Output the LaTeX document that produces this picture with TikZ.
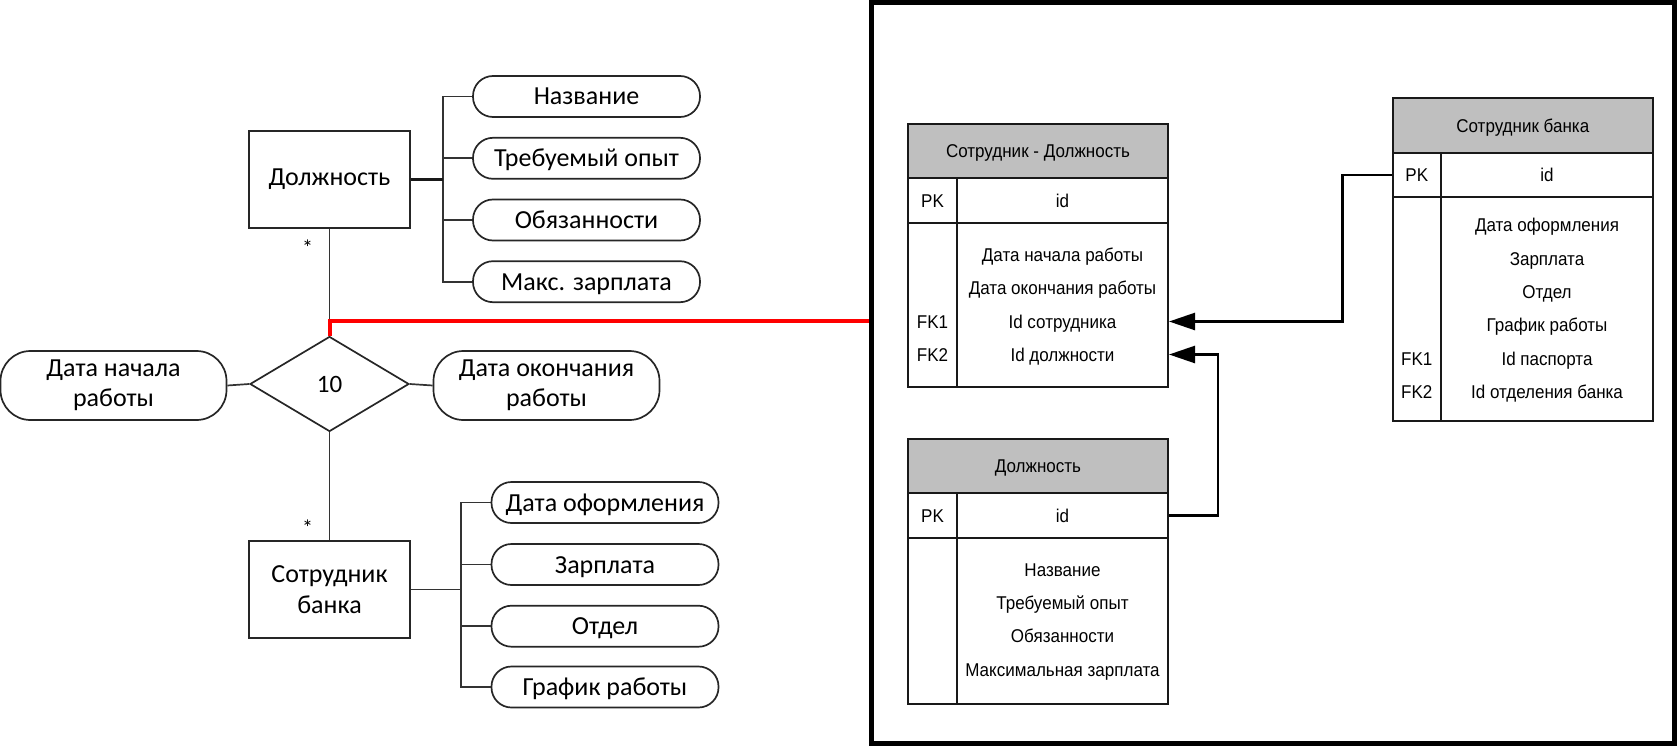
\documentclass[tikz,border=0pt]{standalone}
\usepackage{fontspec}
\setmainfont{Carlito}
\newfontfamily\tabfont{Liberation Sans}[FakeStretch=0.92]
\usetikzlibrary{shapes.geometric,arrows.meta}
\begin{document}
\begin{tikzpicture}[x=1pt,y=-1pt,
  conn/.style={draw=black!80,line width=1.7pt},
  thickconn/.style={draw=black!90,line width=3pt},
  ent/.style={draw=black!85,line width=1.7pt,minimum width=161pt,minimum height=97pt,inner sep=0pt,align=center,font=\fontsize{26}{31}\selectfont},
  attr/.style={draw=black!85,line width=1.7pt,rounded corners=20pt,minimum width=227pt,minimum height=41pt,inner sep=0pt,text height=17pt,text depth=0pt,font=\fontsize{26}{30}\selectfont},
  bigattr/.style={draw=black!85,line width=1.7pt,rounded corners=30pt,minimum width=226pt,minimum height=69pt,inner sep=0pt,align=center,font=\fontsize{26}{30}\selectfont},
  rel/.style={diamond,draw=black!85,line width=1.7pt,minimum width=159pt,minimum height=95pt,inner sep=0pt,font=\fontsize{25}{30}\selectfont},
  star/.style={inner sep=0pt,font=\fontsize{22}{24}\selectfont},
  tabtext/.style={text height=13.3pt,text depth=0pt,font=\tabfont\fontsize{18.5}{20}\selectfont},
  hdr/.style={draw=black!90,fill=black!25,line width=2pt,inner sep=0pt,tabtext},
  cell/.style={draw=black!90,line width=2pt,inner sep=0pt,tabtext},
  txt/.style={inner sep=0pt,tabtext},
  fk/.style={draw=black,line width=2.5pt,-{Triangle[length=26pt,width=17pt]}},
  redline/.style={draw=red,line width=4pt},
  frame/.style={draw=black,line width=5pt,inner sep=0pt,minimum width=803pt,minimum height=741pt}
]
\useasboundingbox (0,0) rectangle (1677,746);

% ---------- left: ER diagram ----------
\node[ent] (dolzh) at (329.5,179.5) {Должность};
\node[attr] (a1) at (586.5,96.5) {Название};
\node[attr] (a2) at (586.5,158.3) {Требуемый опыт};
\node[attr] (a3) at (586.5,220) {Обязанности};
\node[attr] (a4) at (586.5,281.7) {Макс. зарплата};
\coordinate (bus1) at (443,0);
\draw[conn] (a1.west) -- (a1.west -| bus1) -- (a4.west -| bus1) -- (a4.west);
\draw[conn] (a2.west) -- (a2.west -| bus1);
\draw[conn] (a3.west) -- (a3.west -| bus1);
\draw[thickconn] (dolzh.east) -- (dolzh.east -| bus1);

\node[rel] (rel) at (329.5,384) {10};
\node[bigattr] (dn) at (113.5,385.5) {Дата начала\\работы};
\node[bigattr] (dk) at (546.5,385.5) {Дата окончания\\работы};
\draw[conn] (dn.east) -- (rel.west);
\draw[conn] (rel.east) -- (dk.west);

\node[ent] (sb) at (329.5,589.5) {Сотрудник\\банка};
\node[attr] (b1) at (605,502.5) {Дата оформления};
\node[attr] (b2) at (605,564.5) {Зарплата};
\node[attr] (b3) at (605,626.2) {Отдел};
\node[attr] (b4) at (605,687) {График работы};
\coordinate (bus2) at (461.3,0);
\draw[conn] (b1.west) -- (b1.west -| bus2) -- (b4.west -| bus2) -- (b4.west);
\draw[conn] (b2.west) -- (b2.west -| bus2);
\draw[conn] (b3.west) -- (b3.west -| bus2);
\draw[conn] (sb.east) -- (sb.east -| bus2);

\draw[conn] (dolzh.south) -- (rel.north);
\draw[conn] (rel.south) -- (sb.north);
\node[star] (s1) at (307.5,248) {*};
\node[star] (s2) at (307.5,528) {*};

% ---------- right: tables ----------
% table 1
\node[hdr,minimum width=260pt,minimum height=53.5pt] (t1h) at (1038,151.25) {Сотрудник - Должность};
\node[cell,minimum width=49pt,minimum height=45pt] (t1pk) at (932.5,200.5) {PK};
\node[cell,minimum width=211pt,minimum height=45pt] (t1id) at (1062.5,200.5) {id};
\node[cell,minimum width=49pt,minimum height=164pt] (t1bl) at (932.5,305) {};
\node[cell,minimum width=211pt,minimum height=164pt] (t1b) at (1062.5,305) {};
\node[txt] (t1r1) at (1062.5,255) {Дата начала работы};
\node[txt] (t1r2) at (1062.5,288) {Дата окончания работы};
\node[txt] (t1r3) at (1062.5,321.5) {Id сотрудника};
\node[txt] (t1r4) at (1062.5,354.5) {Id должности};
\node[txt] (t1f1) at (932.5,321.5) {FK1};
\node[txt] (t1f2) at (932.5,354.5) {FK2};

% table 2
\node[hdr,minimum width=260.5pt,minimum height=54.5pt] (t2h) at (1522.75,125.75) {Сотрудник банка};
\node[cell,minimum width=48.5pt,minimum height=44pt] (t2pk) at (1416.75,175) {PK};
\node[cell,minimum width=212pt,minimum height=44pt] (t2id) at (1547,175) {id};
\node[cell,minimum width=48.5pt,minimum height=224pt] (t2bl) at (1416.75,309) {};
\node[cell,minimum width=212pt,minimum height=224pt] (t2b) at (1547,309) {};
\node[txt] (t2r1) at (1547,225) {Дата оформления};
\node[txt] (t2r2) at (1547,258.5) {Зарплата};
\node[txt] (t2r3) at (1547,292) {Отдел};
\node[txt] (t2r4) at (1547,325) {График работы};
\node[txt] (t2r5) at (1547,358.5) {Id паспорта};
\node[txt] (t2r6) at (1547,392) {Id отделения банка};
\node[txt] (t2f1) at (1416.75,358.5) {FK1};
\node[txt] (t2f2) at (1416.75,392) {FK2};

% table 3
\node[hdr,minimum width=260pt,minimum height=54pt] (t3h) at (1038,466) {Должность};
\node[cell,minimum width=49pt,minimum height=45pt] (t3pk) at (932.5,515.5) {PK};
\node[cell,minimum width=211pt,minimum height=45pt] (t3id) at (1062.5,515.5) {id};
\node[cell,minimum width=49pt,minimum height=166pt] (t3bl) at (932.5,621) {};
\node[cell,minimum width=211pt,minimum height=166pt] (t3b) at (1062.5,621) {};
\node[txt] (t3r1) at (1062.5,569.5) {Название};
\node[txt] (t3r2) at (1062.5,603) {Требуемый опыт};
\node[txt] (t3r3) at (1062.5,636) {Обязанности};
\node[txt] (t3r4) at (1062.5,669.5) {Максимальная зарплата};

% connectors between tables
\draw[fk] (t2pk.west) -- ++(-49,0) |- (t1b.east |- t1r3);
\draw[fk] (t3id.east) -- ++(49,0) |- (t1b.east |- t1r4);

% red link and frame
\coordinate (rk) at (329.5,320.5);
\node[frame] (fr) at (1273,373) {};
\draw[redline] (rel.north) -- (rk) -- (rk -| fr.west);
\node[frame] at (fr) {};
\end{tikzpicture}
\end{document}
